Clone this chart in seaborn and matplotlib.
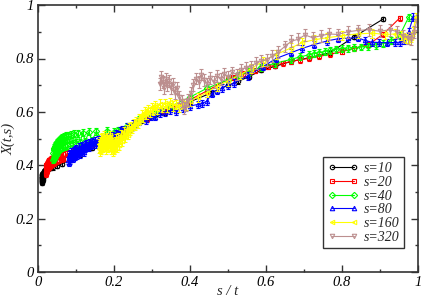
import numpy as np
import seaborn as sns
import matplotlib
matplotlib.use("Agg")
import matplotlib.pyplot as plt
from matplotlib.ticker import MultipleLocator, FixedLocator, FixedFormatter

# s = 10
x_10 = [0.0100, 0.0101, 0.0102, 0.0103, 0.0104, 0.0105, 0.0106, 0.0108, 0.0109, 0.0110,
        0.0112, 0.0114, 0.0116, 0.0118, 0.0120, 0.0122, 0.0125, 0.0128, 0.0130, 0.0133,
        0.0137, 0.0141, 0.0145, 0.0149, 0.0154, 0.0159, 0.0164, 0.0169, 0.0175, 0.0182,
        0.0189, 0.0196, 0.0204, 0.0217, 0.0238, 0.0263, 0.0294, 0.0333, 0.0400, 0.0500,
        0.0625, 0.0833, 0.1111, 0.1429, 0.2000, 0.2500, 0.3333, 0.4000, 0.4545, 0.5000,
        0.5263, 0.5556, 0.5882, 0.6250, 0.6667, 0.7143, 0.7692, 0.8333, 0.9091]
y_10 = [0.340, 0.352, 0.334, 0.358, 0.345, 0.362, 0.338, 0.355, 0.348, 0.365,
        0.342, 0.358, 0.350, 0.366, 0.346, 0.360, 0.352, 0.368, 0.356, 0.364,
        0.358, 0.370, 0.362, 0.372, 0.366, 0.375, 0.370, 0.378, 0.374, 0.380,
        0.377, 0.382, 0.380, 0.382, 0.385, 0.387, 0.389, 0.390, 0.392, 0.398,
        0.405, 0.420, 0.440, 0.465, 0.505, 0.540, 0.595, 0.638, 0.670, 0.700,
        0.714, 0.732, 0.756, 0.771, 0.789, 0.803, 0.822, 0.882, 0.948]

# s = 20
x_20 = [0.0200, 0.0204, 0.0208, 0.0213, 0.0217, 0.0222, 0.0227, 0.0233, 0.0238, 0.0244,
        0.0250, 0.0256, 0.0263, 0.0270, 0.0278, 0.0286, 0.0294, 0.0303, 0.0313, 0.0323,
        0.0333, 0.0345, 0.0357, 0.0370, 0.0385, 0.0400, 0.0417, 0.0435, 0.0455, 0.0476,
        0.0500, 0.0526, 0.0556, 0.0588, 0.0625, 0.0667, 0.0714, 0.0769, 0.0833, 0.0909,
        0.100, 0.118, 0.143, 0.182, 0.222, 0.286, 0.333, 0.400, 0.444,
        0.500, 0.513, 0.526, 0.541, 0.556, 0.571, 0.588, 0.606, 0.625, 0.645,
        0.667, 0.690, 0.714, 0.741, 0.769, 0.800, 0.833, 0.870, 0.909, 0.952]
y_20 = [0.366, 0.390, 0.370, 0.396, 0.373, 0.400, 0.377, 0.404, 0.381, 0.406,
        0.385, 0.410, 0.389, 0.413, 0.392, 0.416, 0.395, 0.418, 0.398, 0.421,
        0.401, 0.424, 0.404, 0.426, 0.406, 0.429, 0.409, 0.431, 0.412, 0.434,
        0.415, 0.436, 0.418, 0.439, 0.422, 0.442, 0.425, 0.446, 0.431, 0.450,
        0.448, 0.460, 0.478, 0.503, 0.528, 0.572, 0.603, 0.645, 0.678,
        0.722, 0.729, 0.735, 0.742, 0.749, 0.755, 0.762, 0.769, 0.775, 0.782,
        0.789, 0.795, 0.801, 0.808, 0.816, 0.826, 0.838, 0.852, 0.891, 0.951]

# s = 40
x_40 = [0.0400, 0.0405, 0.0410, 0.0415, 0.0420, 0.0426, 0.0432, 0.0438, 0.0444, 0.0451,
        0.0457, 0.0465, 0.0472, 0.0480, 0.0488, 0.0497, 0.0506, 0.0516, 0.0526, 0.0537,
        0.0548, 0.0560, 0.0571, 0.0588, 0.0606, 0.0625, 0.0645, 0.0667, 0.0690, 0.0714,
        0.0741, 0.0769, 0.0800, 0.0833, 0.0870, 0.0909, 0.0952, 0.1000, 0.1053, 0.1111,
        0.1176, 0.1250, 0.1333, 0.1429, 0.1538, 0.1667, 0.1818, 0.2000,
        0.211, 0.235, 0.267, 0.308, 0.348, 0.400,
        0.444, 0.500, 0.526, 0.556, 0.588, 0.625, 0.667, 0.690, 0.714, 0.727,
        0.741, 0.755, 0.769, 0.784, 0.800, 0.816, 0.833, 0.851, 0.870, 0.889,
        0.909, 0.930, 0.952, 0.976]
y_40 = [0.445, 0.420, 0.460, 0.428, 0.458, 0.424, 0.466, 0.432, 0.470, 0.436,
        0.474, 0.440, 0.478, 0.445, 0.482, 0.448, 0.486, 0.452, 0.490, 0.455,
        0.494, 0.460, 0.498, 0.462, 0.502, 0.466, 0.506, 0.470, 0.508, 0.472,
        0.510, 0.475, 0.513, 0.478, 0.515, 0.480, 0.518, 0.484, 0.520, 0.486,
        0.522, 0.490, 0.525, 0.493, 0.528, 0.498, 0.530, 0.525,
        0.532, 0.547, 0.570, 0.595, 0.620, 0.655,
        0.688, 0.720, 0.735, 0.752, 0.768, 0.782, 0.797, 0.806, 0.814, 0.818,
        0.822, 0.826, 0.830, 0.834, 0.837, 0.839, 0.841, 0.843, 0.846, 0.850,
        0.856, 0.866, 0.885, 0.955]

# s = 80
x_80 = [0.0800, 0.0808, 0.0816, 0.0825, 0.0833, 0.0842, 0.0851, 0.0860, 0.0870, 0.0879,
        0.0889, 0.0899, 0.0909, 0.0920, 0.0930, 0.0941, 0.0952, 0.0964, 0.0976, 0.0988,
        0.1000, 0.1013, 0.1026, 0.1039, 0.1053, 0.1067, 0.1081, 0.1096, 0.1111, 0.1127,
        0.1143, 0.1159, 0.1176, 0.1194, 0.1212, 0.1231, 0.1250, 0.1270, 0.1290, 0.1311,
        0.1333, 0.1356, 0.1379, 0.1404, 0.1429, 0.1455, 0.1481, 0.1509, 0.1538, 0.1569,
        0.1600, 0.1633, 0.1667, 0.1702, 0.1739, 0.1778, 0.1818, 0.1860, 0.1905, 0.1951,
        0.2000, 0.2051, 0.2105, 0.2162, 0.2222, 0.2286, 0.2353, 0.2424, 0.2500, 0.2581,
        0.2667, 0.2759, 0.2857, 0.2963, 0.3077, 0.3200, 0.3333, 0.3478, 0.3636, 0.3810,
        0.4000, 0.4211, 0.4324, 0.4444, 0.4571, 0.4706, 0.4848, 0.5000,
        0.516, 0.552, 0.593, 0.627, 0.667, 0.696, 0.727, 0.762, 0.790,
        0.816, 0.842, 0.860, 0.879, 0.899, 0.920, 0.941, 0.952, 0.964, 0.976,
        0.988]
y_80 = [0.418, 0.432, 0.410, 0.440, 0.425, 0.445, 0.420, 0.438, 0.428, 0.450,
        0.432, 0.445, 0.425, 0.452, 0.436, 0.455, 0.440, 0.458, 0.432, 0.450,
        0.442, 0.462, 0.438, 0.455, 0.445, 0.468, 0.450, 0.460, 0.442, 0.470,
        0.452, 0.475, 0.458, 0.466, 0.450, 0.478, 0.462, 0.480, 0.466, 0.472,
        0.485, 0.468, 0.480, 0.474, 0.490, 0.478, 0.486, 0.492, 0.480, 0.494,
        0.486, 0.497, 0.490, 0.500, 0.494, 0.505, 0.498, 0.508, 0.502, 0.512,
        0.508, 0.520, 0.515, 0.528, 0.535, 0.530, 0.545, 0.540, 0.555, 0.552,
        0.565, 0.575, 0.570, 0.585, 0.582, 0.595, 0.600, 0.606, 0.604, 0.615,
        0.622, 0.628, 0.632, 0.640, 0.668, 0.680, 0.690, 0.700,
        0.708, 0.735, 0.770, 0.800, 0.822, 0.838, 0.852, 0.866, 0.874,
        0.876, 0.878, 0.868, 0.861, 0.860, 0.859, 0.860, 0.861, 0.868, 0.900,
        0.955]

# s = 160
x_160 = [0.1600, 0.1610, 0.1620, 0.1630, 0.1641, 0.1651, 0.1662, 0.1673, 0.1684, 0.1696,
         0.1707, 0.1720, 0.1732, 0.1745, 0.1758, 0.1770, 0.1783, 0.1797, 0.1810, 0.1825,
         0.1839, 0.1853, 0.1869, 0.1884, 0.1900, 0.1916, 0.1932, 0.1950, 0.1966, 0.1983,
         0.2000, 0.2020, 0.2038, 0.2058, 0.2078, 0.2100, 0.2120, 0.2143, 0.2165, 0.2188,
         0.2210, 0.2235, 0.2260, 0.2285, 0.2310, 0.2338, 0.2365, 0.2393, 0.2424, 0.2455,
         0.2485, 0.2520, 0.2553, 0.2588, 0.2623, 0.2660, 0.2697, 0.2735, 0.2775, 0.2817,
         0.2857, 0.2900, 0.2945, 0.2991, 0.3038, 0.3088, 0.3137, 0.3200, 0.3265, 0.3333,
         0.3404, 0.3478, 0.3556, 0.3636, 0.3721, 0.3810, 0.3902, 0.4000,
         0.421, 0.444, 0.471, 0.500, 0.533, 0.561, 0.593, 0.627,
         0.667, 0.696, 0.727, 0.762, 0.800, 0.842, 0.879, 0.914, 0.941, 0.955,
         0.964, 0.970, 0.976, 0.982, 0.988, 0.994]
y_160 = [0.462, 0.480, 0.450, 0.490, 0.468, 0.500, 0.458, 0.485, 0.472, 0.505,
         0.465, 0.492, 0.478, 0.510, 0.470, 0.495, 0.460, 0.488, 0.475, 0.505,
         0.468, 0.498, 0.482, 0.512, 0.470, 0.495, 0.458, 0.485, 0.450, 0.478,
         0.460, 0.490, 0.470, 0.500, 0.465, 0.488, 0.505, 0.475, 0.498, 0.515,
         0.490, 0.510, 0.525, 0.505, 0.520, 0.535, 0.515, 0.540, 0.530, 0.545,
         0.538, 0.555, 0.548, 0.565, 0.558, 0.575, 0.570, 0.590, 0.580, 0.600,
         0.592, 0.610, 0.598, 0.618, 0.605, 0.625, 0.610, 0.630, 0.615, 0.632,
         0.618, 0.636, 0.622, 0.628, 0.618, 0.632, 0.625, 0.640,
         0.655, 0.672, 0.695, 0.715, 0.740, 0.762, 0.790, 0.815,
         0.840, 0.860, 0.870, 0.878, 0.885, 0.892, 0.895, 0.890, 0.892, 0.885,
         0.880, 0.875, 0.872, 0.878, 0.900, 0.955]

# s = 320
x_320 = [0.320, 0.324, 0.328, 0.332, 0.336, 0.340, 0.345, 0.350, 0.355, 0.360,
         0.366, 0.372, 0.378, 0.384, 0.390, 0.396, 0.402, 0.409, 0.416, 0.423,
         0.430, 0.438, 0.446, 0.454, 0.463, 0.472, 0.481, 0.491, 0.501, 0.512,
         0.523, 0.535, 0.547, 0.560, 0.573, 0.587, 0.602, 0.617, 0.633, 0.650,
         0.667, 0.685, 0.703, 0.723, 0.744, 0.766, 0.790, 0.815, 0.842, 0.871,
         0.901, 0.928, 0.946, 0.961, 0.973, 0.982, 0.991, 0.997]
y_320 = [0.705, 0.730, 0.712, 0.690, 0.722, 0.700, 0.715, 0.688, 0.705, 0.672,
         0.690, 0.655, 0.640, 0.615, 0.625, 0.645, 0.670, 0.700, 0.725, 0.712,
         0.740, 0.720, 0.705, 0.728, 0.712, 0.735, 0.722, 0.742, 0.730, 0.748,
         0.740, 0.758, 0.765, 0.770, 0.782, 0.790, 0.795, 0.810, 0.825, 0.845,
         0.865, 0.872, 0.888, 0.878, 0.885, 0.892, 0.890, 0.900, 0.905, 0.908,
         0.902, 0.908, 0.900, 0.885, 0.878, 0.872, 0.900, 0.940]

s_values = [10, 20, 40, 80, 160, 320]
err_by_s = [0.008, 0.010, 0.013, 0.014, 0.017, 0.022]  # typical error bar half-height

xs = [x_10, x_20, x_40, x_80, x_160, x_320]
ys = [y_10, y_20, y_40, y_80, y_160, y_320]
colors = ["black", "#ff0000", "#00ff00", "#0000ff", "#ffff00", "#bc8f8f"]
markers = ["o", "s", "D", "^", "<", "v"]

sns.set_style("ticks")
plt.rcParams["font.family"] = ["Liberation Serif", "DejaVu Serif"]
plt.rcParams["font.style"] = "italic"
plt.rcParams["font.size"] = 10

fig = plt.figure(figsize=(4.22, 3.0), dpi=100)
ax = fig.add_axes([0.090, 0.093, 0.900, 0.890])

handles = []
for s, x, y, e, c, m in zip(s_values, xs, ys, err_by_s, colors, markers):
    ax.errorbar(x, y, yerr=e, fmt="none", ecolor=c, elinewidth=0.8,
                capsize=1.3, capthick=0.8)
    sns.lineplot(x=x, y=y, ax=ax, color=c, marker=m, markersize=3.2,
                 markerfacecolor="none", markeredgecolor=c, markeredgewidth=0.8,
                 linewidth=0.8, sort=False, estimator=None, label=f"s={s}",
                 legend=False)
    handles.append(ax.lines[-1])

ax.set_xlim(0, 1)
ax.set_ylim(0, 1)
ticks = [0, 0.2, 0.4, 0.6, 0.8, 1]
tick_labels = ["0", "0.2", "0.4", "0.6", "0.8", "1"]
ax.xaxis.set_major_locator(FixedLocator(ticks))
ax.xaxis.set_major_formatter(FixedFormatter(tick_labels))
ax.yaxis.set_major_locator(FixedLocator(ticks))
ax.yaxis.set_major_formatter(FixedFormatter(tick_labels))
ax.xaxis.set_minor_locator(MultipleLocator(0.1))
ax.yaxis.set_minor_locator(MultipleLocator(0.1))
ax.tick_params(which="both", direction="in", top=True, right=True,
               colors="#333333", labelcolor="black", labelsize=10.5, pad=3)
ax.tick_params(which="major", length=5, width=1)
ax.tick_params(which="minor", length=2.5, width=1)
for sp in ax.spines.values():
    sp.set_visible(True)
    sp.set_color("#333333")
    sp.set_linewidth(1.2)

ax.set_xlabel("s / t", fontsize=10.5)
ax.xaxis.set_label_coords(0.5, -0.05)
ax.set_ylabel("X(t,s)", fontsize=10.5, labelpad=0)

leg = ax.legend(handles, [f"s={s}" for s in s_values], loc="upper left",
                bbox_to_anchor=(0.75, 0.43), numpoints=2, fontsize=10,
                handlelength=2.2, handletextpad=0.4, labelspacing=0.05,
                borderpad=0.35, fancybox=False, framealpha=1,
                edgecolor="#333333", borderaxespad=0)
leg.get_frame().set_linewidth(1.0)

plt.savefig("out.png", dpi=100)
